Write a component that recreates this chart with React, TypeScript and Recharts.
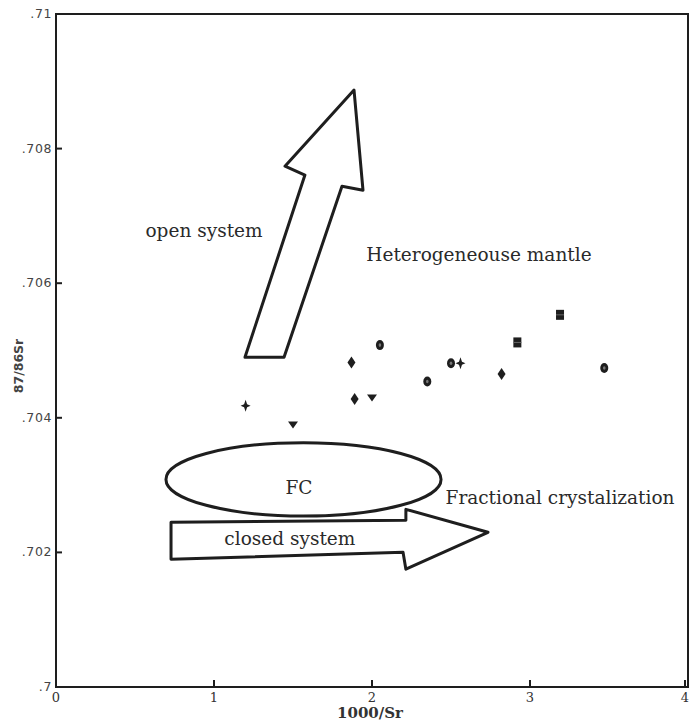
import { ScatterChart, Scatter, XAxis, YAxis, ReferenceArea, ReferenceDot } from 'recharts';

// axis ticks
const xTicks = [0, 1, 2, 3, 4];
const yTicks = [0.7, 0.702, 0.704, 0.706, 0.708, 0.71];
const yTickLabels = ['.7', '.702', '.704', '.706', '.708', '.71'];

// samples, grouped by symbol (x = 1000/Sr, y = 87Sr/86Sr)
const starPts = [
  { x: 1.2, y: 0.70418 },
  { x: 2.56, y: 0.70481 },
];
const triPts = [
  { x: 1.5, y: 0.7039 },
  { x: 2.0, y: 0.7043 },
];
const diamondPts = [
  { x: 1.87, y: 0.70482 },
  { x: 1.89, y: 0.70428 },
  { x: 2.82, y: 0.70465 },
];
const circlePts = [
  { x: 2.05, y: 0.70508 },
  { x: 2.35, y: 0.70454 },
  { x: 2.5, y: 0.70481 },
  { x: 3.47, y: 0.70474 },
];
const squarePts = [
  { x: 2.92, y: 0.70512 },
  { x: 3.19, y: 0.70553 },
];

// annotation boxes [x1, x2, y1, y2]
const openArrow = [1.196, 1.943, 0.7049, 0.70887];
const closedArrow = [0.728, 2.734, 0.70175, 0.70264];
const fcEllipse = [0.696, 2.437, 0.70254, 0.70363];

const noteText = ['open system', 'Heterogeneouse mantle', 'FC', 'Fractional crystalization', 'closed system'];
const noteX = [0.937, 2.677, 1.538, 3.19, 1.48];
const noteY = [0.70679, 0.70642, 0.70297, 0.70282, 0.7022];

const ink = '#1e1e1e';
const serif = '"DejaVu Serif", serif';

const upArrowPts = [
  [0.924, 0], [1, 0.375], [0.822, 0.36], [0.331, 1],
  [0, 1], [0.508, 0.318], [0.339, 0.285],
];
const rightArrowPts = [
  [0, 0.217], [0.741, 0.183], [0.741, 0], [1, 0.383],
  [0.741, 1], [0.732, 0.717], [0, 0.833],
];

function polyShape(pts: number[][]) {
  return (p: any) => {
    const d = pts.map(([fx, fy]) => `${p.x + fx * p.width},${p.y + fy * p.height}`).join(' ');
    return <polygon points={d} fill="none" stroke={ink} strokeWidth={3} strokeLinejoin="round" />;
  };
}

const ellipseShape = (p: any) => (
  <ellipse
    cx={p.x + p.width / 2}
    cy={p.y + p.height / 2}
    rx={p.width / 2}
    ry={p.height / 2}
    fill="none"
    stroke={ink}
    strokeWidth={3}
  />
);

const Star = (p: any) => (
  <path
    d={`M${p.cx},${p.cy - 6} L${p.cx + 1.5},${p.cy - 1.5} L${p.cx + 5},${p.cy} L${p.cx + 1.5},${p.cy + 1.5} L${p.cx},${p.cy + 6} L${p.cx - 1.5},${p.cy + 1.5} L${p.cx - 5},${p.cy} L${p.cx - 1.5},${p.cy - 1.5} Z`}
    fill={ink}
  />
);
const TriDown = (p: any) => (
  <polygon points={`${p.cx - 5},${p.cy - 3} ${p.cx + 5},${p.cy - 3} ${p.cx},${p.cy + 4}`} fill={ink} />
);
const Diamond = (p: any) => (
  <polygon points={`${p.cx},${p.cy - 6} ${p.cx + 4},${p.cy} ${p.cx},${p.cy + 6} ${p.cx - 4},${p.cy}`} fill={ink} />
);
const Blob = (p: any) => (
  <g>
    <ellipse cx={p.cx} cy={p.cy} rx={4} ry={5} fill={ink} />
    <ellipse cx={p.cx} cy={p.cy} rx={1.3} ry={1.8} fill="#777" />
  </g>
);
const Square = (p: any) => (
  <g>
    <rect x={p.cx - 4} y={p.cy - 5} width={8} height={10} fill={ink} />
    <line x1={p.cx - 4} x2={p.cx + 4} y1={p.cy} y2={p.cy} stroke="#666" strokeWidth={1} />
  </g>
);

const YTick = (p: any) => {
  const i = yTicks.indexOf(p.payload.value);
  return (
    <g>
      <line x1={p.x} x2={p.x + 6} y1={p.y} y2={p.y} stroke={ink} strokeWidth={2} />
      <text x={p.x - 4} y={p.y + 4} textAnchor="end" fontSize={12.5} fill="#444" fontFamily='"DejaVu Sans", sans-serif' letterSpacing={0.6}>
        {yTickLabels[i]}
      </text>
    </g>
  );
};

const XTick = (p: any) => (
  <g>
    <line x1={p.x} x2={p.x} y1={p.y} y2={p.y - 7} stroke={ink} strokeWidth={2} />
    <text x={p.x} y={p.y + 15} textAnchor="middle" fontSize={13} fill="#333" fontFamily={serif}>
      {p.payload.value}
    </text>
  </g>
);

export default function App() {
  return (
    <div style={{ position: 'absolute', left: 0, top: 0, background: '#fff' }}>
      <ScatterChart width={689} height={724} margin={{ top: 14, right: 1, bottom: 0, left: 0 }}>
        <XAxis
          type="number"
          dataKey="x"
          domain={[0, 4]}
          ticks={xTicks}
          height={37}
          tickLine={false}
          tickSize={0}
          tickMargin={0}
          tick={<XTick />}
          axisLine={{ stroke: ink, strokeWidth: 2 }}
          label={{
            content: (lp: any) => (
              <text
                x={lp.viewBox.x + lp.viewBox.width / 2 - 2}
                y={lp.viewBox.y + 31}
                textAnchor="middle"
                fontSize={15}
                fontWeight="bold"
                fill="#333"
                fontFamily={serif}
              >
                1000/Sr
              </text>
            ),
          }}
        />
        <YAxis
          type="number"
          dataKey="y"
          domain={[0.7, 0.71]}
          ticks={yTicks}
          width={56}
          tickLine={false}
          tickSize={0}
          tickMargin={0}
          tick={<YTick />}
          axisLine={{ stroke: ink, strokeWidth: 2 }}
          label={{
            content: (lp: any) => {
              const cx = lp.viewBox.x + 18;
              const cy = lp.viewBox.y + 352;
              return (
                <text
                  x={cx}
                  y={cy}
                  transform={`rotate(-90 ${cx} ${cy})`}
                  textAnchor="middle"
                  dominantBaseline="central"
                  fontSize={12.5}
                  fontWeight="bold"
                  fill="#444"
                  fontFamily='"DejaVu Sans", sans-serif'
                >
                  87/86Sr
                </text>
              );
            },
          }}
        />
        <ReferenceArea x1={0} x2={4} y1={0.7} y2={0.71} fill="none" stroke={ink} strokeWidth={2} fillOpacity={0} />
        <ReferenceArea
          x1={openArrow[0]} x2={openArrow[1]} y1={openArrow[2]} y2={openArrow[3]}
          shape={polyShape(upArrowPts)}
        />
        <ReferenceArea
          x1={closedArrow[0]} x2={closedArrow[1]} y1={closedArrow[2]} y2={closedArrow[3]}
          shape={polyShape(rightArrowPts)}
        />
        <ReferenceArea
          x1={fcEllipse[0]} x2={fcEllipse[1]} y1={fcEllipse[2]} y2={fcEllipse[3]}
          shape={ellipseShape}
        />
        {noteText.map((t, i) => (
          <ReferenceDot
            key={t}
            x={noteX[i]}
            y={noteY[i]}
            r={0}
            shape={(p: any) => (
              <text
                x={p.cx}
                y={p.cy}
                textAnchor="middle"
                dominantBaseline="central"
                fontSize={18.5}
                fill="#2a2a2a"
                fontFamily={serif}
              >
                {t}
              </text>
            )}
          />
        ))}
        <Scatter data={starPts} shape={<Star />} isAnimationActive={false} />
        <Scatter data={triPts} shape={<TriDown />} isAnimationActive={false} />
        <Scatter data={diamondPts} shape={<Diamond />} isAnimationActive={false} />
        <Scatter data={circlePts} shape={<Blob />} isAnimationActive={false} />
        <Scatter data={squarePts} shape={<Square />} isAnimationActive={false} />
      </ScatterChart>
    </div>
  );
}
